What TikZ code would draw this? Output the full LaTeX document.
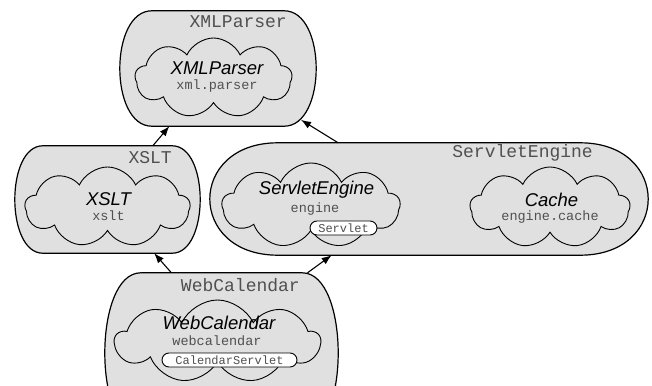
\documentclass[tikz,border=0pt]{standalone}
\usepackage{fontspec}
\setmainfont{Liberation Sans}
\setmonofont{Liberation Mono}
\usetikzlibrary{shapes.misc,shapes.symbols,positioning,arrows.meta}
\definecolor{pkgGray}{RGB}{224,224,224}
\definecolor{codeGray}{RGB}{80,80,80}

\begin{document}
\begin{tikzpicture}[x=1pt, y=-1pt,
  pkg/.style={rectangle, inner sep=0pt},
  pkgline/.style={draw, line width=1.2pt, fill=pkgGray},
  comp/.style={draw, line width=0.9pt, fill=pkgGray, cloud, cloud puffs=9, cloud puff arc=130},
  pkgname/.style={font=\ttfamily\fontsize{18}{18}\selectfont, text=codeGray, inner sep=0pt, anchor=east},
  compname/.style={font=\itshape\fontsize{18.5}{18.5}\selectfont, inner sep=0pt},
  modname/.style={font=\ttfamily\fontsize{13.5}{13.5}\selectfont, text=codeGray, inner sep=0pt},
  iface/.style={draw, line width=0.9pt, fill=white, rounded rectangle, minimum height=14pt, inner sep=0pt, font=\ttfamily\fontsize{12}{12}\selectfont, text=codeGray},
  dep/.style={-{Latex[length=10pt,width=7.5pt]}, line width=1.1pt}]
\useasboundingbox (0,0) rectangle (652,385);

% Packages
\node[pkg, minimum width=196pt, minimum height=115pt] (xmlparser) at (218,68.5) {};
\node[pkg, minimum width=185pt, minimum height=107pt] (xslt) at (107.5,199.5) {};
\node[pkg, minimum width=438pt, minimum height=112pt] (servletengine) at (429,199) {};
\node[pkg, minimum width=233pt, minimum height=160pt] (webcalendar) at (221.5,353) {};

% Package outlines, bulging sides
\foreach \n/\r in {xmlparser/32, xslt/28, servletengine/68, webcalendar/36}
  \draw[pkgline] ([xshift=\r pt]\n.north west) -- ([xshift=-\r pt]\n.north east)
    .. controls ([xshift=\r pt/3]\n.north east) and ([xshift=\r pt/3]\n.south east) .. ([xshift=-\r pt]\n.south east)
    -- ([xshift=\r pt]\n.south west)
    .. controls ([xshift=-\r pt/3]\n.south west) and ([xshift=-\r pt/3]\n.north west) .. cycle;

% Package titles
\node[pkgname] (xmlparserTitle) at (287,22) {XMLParser};
\node[pkgname] (xsltTitle) at (172,158) {XSLT};
\node[pkgname] (servletengineTitle) at (593,153) {ServletEngine};
\node[pkgname] (webcalendarTitle) at (300,285) {WebCalendar};

% Components
\node[comp, minimum width=157pt, minimum height=80pt] (parserComp) at (213.5,78) {};
\node[comp, minimum width=165pt, minimum height=80pt] (xsltComp) at (107.5,207) {};
\node[comp, minimum width=178pt, minimum height=85pt] (engineComp) at (311,205.5) {};
\node[comp, minimum width=160pt, minimum height=81pt] (cacheComp) at (550,207.5) {};
\node[comp, minimum width=205pt, minimum height=83pt] (calendarComp) at (217.5,341.5) {};

% Component names and modules
\node[compname] (parserName) at (217,68) {XMLParser};
\node[modname] (parserMod) at (217,86) {xml.parser};
\node[compname] (xsltName) at (108.5,199) {XSLT};
\node[modname] (xsltMod) at (108.5,216) {xslt};
\node[compname] (engineName) at (316.5,190) {ServletEngine};
\node[modname] (engineMod) at (315,209) {engine};
\node[iface, minimum width=67pt] (servlet) at (343.5,228) {Servlet};
\node[compname] (cacheName) at (551.5,200) {Cache};
\node[modname] (cacheMod) at (550,217) {engine.cache};
\node[compname] (calendarName) at (219,322.5) {WebCalendar};
\node[modname] (calendarMod) at (217,341) {webcalendar};
\node[iface, minimum width=135pt] (calendarServlet) at (229.5,360) {CalendarServlet};

% Dependencies
\draw[dep] (xslt) -- (xmlparser);
\draw[dep, shorten >=-12pt] (servletengine) -- (xmlparser);
\draw[dep] (webcalendar.122) -- (xslt.311);
\draw[dep] (webcalendar.43) -- (servletengine.210);
\end{tikzpicture}
\end{document}
